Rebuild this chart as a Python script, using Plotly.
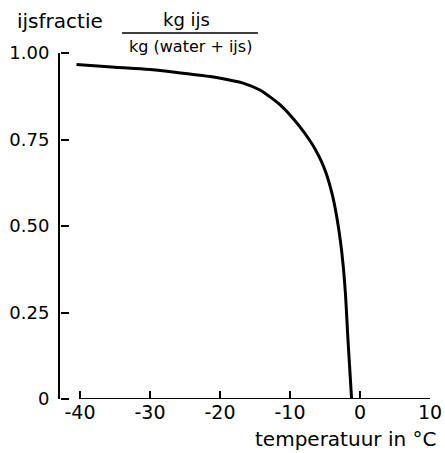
import plotly.graph_objects as go

# Data
temperature = [-40.5, -35, -30, -25, -21.4, -18, -16.7, -14.3, -12.9, -11.4,
               -10.0, -8.6, -7.1, -6.4, -5.5, -4.8, -4.0, -3.3, -2.8, -2.4, -2.1, -1.7, -1.2]
ice_fraction = [0.967, 0.959, 0.952, 0.941, 0.932, 0.919, 0.913, 0.893, 0.874, 0.850,
                0.821, 0.787, 0.745, 0.722, 0.686, 0.650, 0.594, 0.524, 0.457, 0.385, 0.310, 0.165, 0.0]
x_ticks = [-40, -30, -20, -10, 0, 10]
x_ticktext = ["-40", "-30", "-20", "-10", "0", "10"]
y_ticks = [0, 0.25, 0.5, 0.75, 1.0]
y_ticktext = ["0", "0.25", "0.50", "0.75", "1.00"]

W, H = 445, 453
L, R, T, B = 60, 430, 53, 399.5
X0_PIX = 80  # pixel where the x axis (-40) starts


def px(x):
    return (x - L) / (R - L)


def py(y):
    return (B - y) / (B - T)


FONT = "DejaVu Sans"

# x range chosen so the x axis starts right of the y axis (offset axes)
units_per_px = (x_ticks[-1] - x_ticks[0]) / (R - X0_PIX)
x_range = [x_ticks[0] - (X0_PIX - L) * units_per_px, x_ticks[-1]]

fig = go.Figure()
fig.add_trace(go.Scatter(
    x=temperature, y=ice_fraction, mode="lines",
    line=dict(color="black", width=3, shape="spline", smoothing=1.0),
    showlegend=False, hoverinfo="skip", cliponaxis=False,
))
# invisible helper trace so the tick-only right-side axis is created
fig.add_trace(go.Scatter(
    x=[temperature[0]], y=[ice_fraction[0]], yaxis="y2", mode="markers",
    marker=dict(opacity=0), showlegend=False, hoverinfo="skip",
))

fig.update_layout(
    template="none",
    width=W, height=H,
    margin=dict(l=L, r=W - R, t=T, b=H - B),
    paper_bgcolor="white", plot_bgcolor="white",
    font=dict(family=FONT, color="black", size=20),
    xaxis=dict(
        range=x_range,
        tickmode="array", tickvals=x_ticks, ticktext=x_ticktext,
        ticks="inside", ticklen=8, tickwidth=2, tickcolor="black",
        showline=False, showgrid=False, zeroline=False,
        tickfont=dict(size=19, family=FONT),
    ),
    yaxis=dict(
        range=[0, 1],
        tickmode="array", tickvals=y_ticks, ticktext=y_ticktext,
        ticks="",
        showline=True, linecolor="black", linewidth=2,
        showgrid=False, zeroline=False,
        tickfont=dict(size=18, family=FONT),
        ticklabelstandoff=5,
    ),
    yaxis2=dict(
        overlaying="y", side="right", anchor="free", position=0,
        range=[0, 1], tickmode="array", tickvals=y_ticks,
        ticks="outside", ticklen=8, tickwidth=2, tickcolor="black",
        showticklabels=False, showline=False, showgrid=False, zeroline=False,
    ),
)

# x axis baseline from first to last tick (offset from the y axis)
fig.add_shape(type="line", xref="x", yref="y",
              x0=x_ticks[0], x1=x_ticks[-1], y0=0, y1=0,
              line=dict(color="black", width=2))

annots = [
    dict(text="ijsfractie", x=px(15), y=py(21), xanchor="left", yanchor="middle", size=20),
    dict(text="kg ijs", x=px(186), y=py(19), xanchor="center", yanchor="middle", size=18),
    dict(text="kg (water + ijs)", x=px(190), y=py(46), xanchor="center", yanchor="middle", size=16),
    dict(text="temperatuur in °C", x=px(438), y=py(440), xanchor="right", yanchor="middle", size=20),
]
for a in annots:
    fig.add_annotation(text=a["text"], x=a["x"], y=a["y"], xref="paper", yref="paper",
                       xanchor=a["xanchor"], yanchor=a["yanchor"], showarrow=False,
                       font=dict(family=FONT, size=a["size"], color="black"))

fig.add_shape(type="line", xref="paper", yref="paper",
              x0=px(122), x1=px(258), y0=py(33), y1=py(33),
              line=dict(color="black", width=1.5))

fig.write_html("out.html")
